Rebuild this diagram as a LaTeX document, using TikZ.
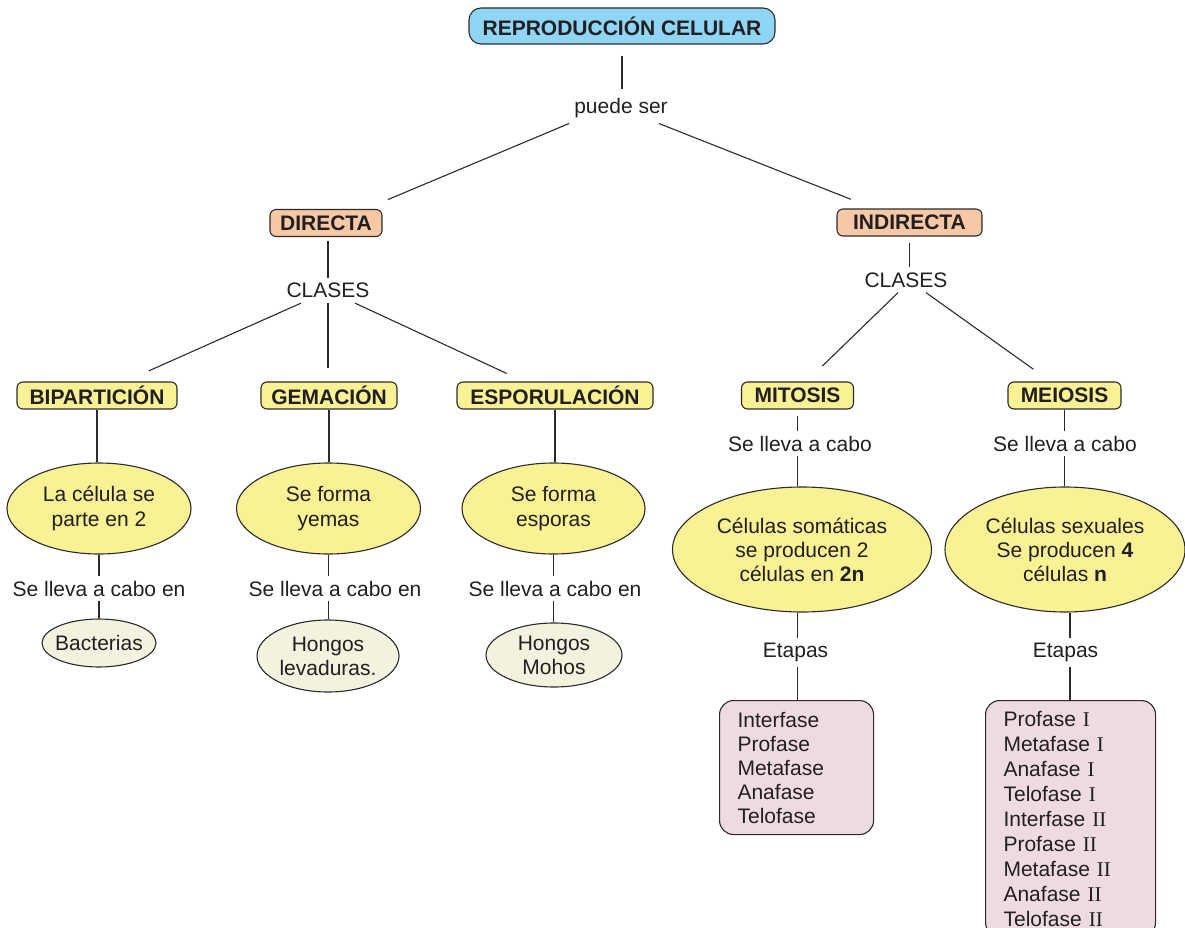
\documentclass[tikz,border=0pt]{standalone}
\usepackage{fontspec}
\setmainfont{Liberation Sans}
\newfontfamily\serifnum{Liberation Serif}
\usetikzlibrary{shapes.geometric,calc}
\definecolor{linec}{HTML}{2B2B2B}
\definecolor{txtc}{HTML}{231F20}
\definecolor{rootc}{HTML}{8FD6F4}
\definecolor{peach}{HTML}{F6C8A6}
\definecolor{yell}{HTML}{F8F294}
\definecolor{cream}{HTML}{F3F2DE}
\definecolor{pinkc}{HTML}{EDDBE1}
\tikzset{
  conn/.style={draw=linec, line width=1.1pt},
  lbl/.style={font=\fontsize{21}{25}\selectfont, inner sep=5pt, text=txtc},
  rootbox/.style={draw=linec, fill=rootc, line width=1.1pt, rounded corners=12pt,
    minimum width=306pt, minimum height=36pt, inner sep=0pt,
    font=\bfseries\fontsize{21}{25}\selectfont, text=txtc},
  catbox/.style={draw=linec, fill=peach, line width=1.1pt, rounded corners=6pt,
    minimum height=27pt, inner sep=0pt,
    font=\bfseries\fontsize{21}{25}\selectfont, text=txtc},
  typebox/.style={catbox, fill=yell},
  bigell/.style={ellipse, draw=linec, fill=yell, line width=1.1pt, inner sep=0pt},
  smallell/.style={ellipse, draw=linec, fill=cream, line width=1.1pt, inner sep=0pt},
  elltext/.style={align=center, text=txtc, font=\fontsize{21}{25}\selectfont, inner sep=0pt},
  elltextb/.style={align=center, text=txtc, font=\fontsize{21}{24}\selectfont, inner sep=0pt},
  stagebox/.style={draw=linec, fill=pinkc, line width=1.1pt, rounded corners=14pt,
    inner xsep=18pt, inner ysep=0pt, align=left, text=txtc},
}
\begin{document}
\begin{tikzpicture}[x=1pt,y=-1pt]
\useasboundingbox (0,0) rectangle (1185,928);

% top
\node[rootbox] (root) at (622,26) {REPRODUCCIÓN CELULAR};
\node[lbl] (ps) at (621,108.5) {puede ser};

% level 1
\node[catbox, minimum width=112pt] (dir) at (326,223) {DIRECTA};
\node[catbox, minimum width=145pt] (ind) at (909.5,222.5) {INDIRECTA};
\node[lbl] (cl1) at (328,290.5) {CLASES};
\node[lbl] (cl2) at (906,280) {CLASES};

% level 2
\node[typebox, minimum width=160pt] (bip) at (97,395.5) {BIPARTICIÓN};
\node[typebox, minimum width=136pt] (gem) at (329,395.5) {GEMACIÓN};
\node[typebox, minimum width=196pt] (esp) at (555,395.5) {ESPORULACIÓN};
\node[typebox, minimum width=112pt] (mit) at (797.5,395.5) {MITOSIS};
\node[typebox, minimum width=113pt] (mei) at (1064.5,395.5) {MEIOSIS};

% direct branch
\node[bigell, minimum width=184pt, minimum height=91pt,
  label={[elltext]center:{La célula se\\parte en 2}}] (e1) at (99,508.5) {};
\node[bigell, minimum width=184pt, minimum height=91pt,
  label={[elltext]center:{Se forma\\yemas}}] (e2) at (328.5,508.5) {};
\node[bigell, minimum width=183pt, minimum height=91pt,
  label={[elltext]center:{Se forma\\esporas}}] (e3) at (553.5,508.5) {};

\node[lbl] (s1) at (99,588.5) {Se lleva a cabo en};
\node[lbl] (s2) at (335,588.5) {Se lleva a cabo en};
\node[lbl] (s3) at (555,588.5) {Se lleva a cabo en};

\node[smallell, minimum width=114pt, minimum height=48pt,
  label={[elltext]center:Bacterias}] (f1) at (99,643) {};
\node[smallell, minimum width=142pt, minimum height=72pt,
  label={[elltextb]center:{Hongos\\levaduras.}}] (f2) at (328,656) {};
\node[smallell, minimum width=136pt, minimum height=64pt,
  label={[elltextb]center:{Hongos\\Mohos}}] (f3) at (554,655) {};

% indirect branch
\node[lbl] (m1) at (800,443.5) {Se lleva a cabo};
\node[lbl] (m2) at (1065,443.5) {Se lleva a cabo};

\node[bigell, minimum width=259pt, minimum height=125pt,
  label={[elltextb]center:{Células somáticas\\se producen 2\\células en \textbf{2n}}}] (e4) at (802,549.5) {};
\node[bigell, minimum width=240pt, minimum height=125pt,
  label={[elltextb]center:{Células sexuales\\Se producen \textbf{4}\\células \textbf{n}}}] (e5) at (1065,549.5) {};

\node[lbl] (et1) at (795.5,652.5) {Etapas};
\node[lbl] (et2) at (1065.5,652.5) {Etapas};

\node[stagebox, text width=118pt, minimum height=134pt, anchor=north west,
  font=\fontsize{21}{24}\selectfont] (sb1) at (719,700)
  {Interfase\\Profase\\Metafase\\Anafase\\Telofase};
\node[stagebox, text width=134pt, minimum height=236pt, anchor=north west,
  font=\fontsize{21}{25}\selectfont] (sb2) at (985,700)
  {Profase {\serifnum I}\\Metafase {\serifnum I}\\Anafase {\serifnum I}\\Telofase {\serifnum I}\\Interfase {\serifnum II}\\Profase {\serifnum II}\\Metafase {\serifnum II}\\Anafase {\serifnum II}\\Telofase {\serifnum II}};

% connectors
\draw[conn, shorten <=11pt, shorten >=5pt] (root.south) -- (root.south |- ps.north);
\draw[conn, shorten >=24pt] (ps.south west) -- ($(dir.north)!0.7!(dir.north east)$);
\draw[conn, shorten >=25pt] (ps) -- (ind);

\draw[conn, shorten <=4pt] (cl1.north |- dir.south) -- (cl1.north);
\draw[conn, shorten <=6pt] (ind.south) -- (ind.south |- cl2.north);

\draw[conn, shorten >=26pt] ([xshift=-27pt]cl1.south) -- ([xshift=28pt]bip.north);
\draw[conn, shorten >=13pt] (cl1.south) -- (cl1.south |- gem.north);
\draw[conn, shorten >=19pt] ([xshift=27pt]cl1.south) -- ([xshift=-31pt]esp.north);

\draw[conn, shorten >=22pt] ([xshift=-8pt]cl2.south) -- ([xshift=9pt]mit.north);
\draw[conn, shorten >=21pt] ([xshift=20pt]cl2.south) -- ([xshift=-14pt]mei.north);

\draw[conn] (bip.south) -- (bip.south |- e1.north);
\draw[conn] (e1.south) -- (e1.south |- s1.north);
\draw[conn] (e1.south |- s1.south) -- (e1.south |- f1.north);

\draw[conn] (gem.south) -- (gem.south |- e2.north);
\draw[conn] (e2.south) -- (e2.south |- s2.north);
\draw[conn] (e2.south |- s2.south) -- (e2.south |- f2.north);

\draw[conn] (esp.south) -- (esp.south |- e3.north);
\draw[conn] (e3.south) -- (e3.south |- s3.north);
\draw[conn] (e3.south |- s3.south) -- (e3.south |- f3.north);

\draw[conn, shorten <=6pt] (mit.south) -- (mit.south |- m1.north);
\draw[conn] (mit.south |- m1.south) -- (mit.south |- e4.north);
\draw[conn] (mit.south |- e4.south) -- (mit.south |- et1.north);
\draw[conn] (mit.south |- et1.south) -- (mit.south |- sb1.north);

\draw[conn] (mei.south) -- (mei.south |- m2.north);
\draw[conn] (mei.south |- m2.south) -- (mei.south |- e5.north);
\draw[conn] ($(mei.south |- e5.south)+(5.5,0)$) -- ($(mei.south |- et2.north)+(5.5,0)$);
\draw[conn] ($(mei.south |- et2.south)+(5.5,0)$) -- ($(mei.south |- sb2.north)+(5.5,0)$);
\end{tikzpicture}
\end{document}
